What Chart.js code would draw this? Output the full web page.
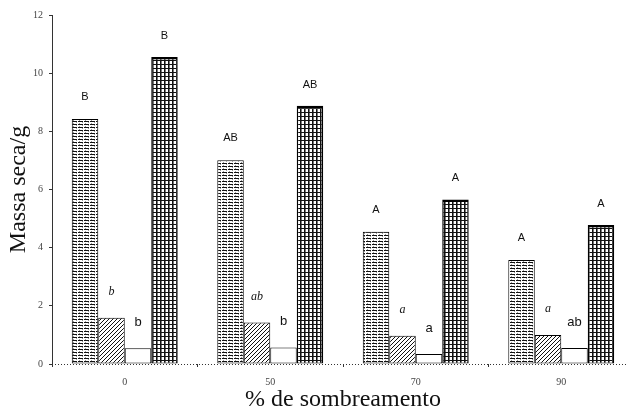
<!DOCTYPE html>
<html lang="pt">
<head>
  <meta charset="UTF-8">
  <title>Massa seca</title>
  <style>
    body {
      margin: 0;
      background: #fff;
      overflow: hidden;
    }
    #wrap {
      width: 636px;
      height: 416px;
    }
  </style>
</head>
<body>

<div id="wrap"><canvas id="chart" width="636" height="416"></canvas></div>

<script src="https://cdn.jsdelivr.net/npm/chart.js"></script>
<script>

const categorias = ["0", "50", "70", "90"];
const serie1 = [8.42, 7.01, 4.55, 3.58];
const serie2 = [1.59, 1.43, 0.97, 1.0];
const serie3 = [0.54, 0.57, 0.34, 0.55];
const serie4 = [10.56, 8.88, 5.66, 4.78];
const letras1 = ["B", "AB", "A", "A"];
const letras2 = ["b", "ab", "a", "a"];
const letras3 = ["b", "b", "a", "ab"];
const letras4 = ["B", "AB", "A", "A"];
const yTicks = [0, 2, 4, 6, 8, 10, 12];

// padrões de hachura
function makePattern(w, h, draw) {
  const c = document.createElement("canvas");
  c.width = w;
  c.height = h;
  const g = c.getContext("2d");
  g.fillStyle = "#fff";
  g.fillRect(0, 0, w, h);
  g.fillStyle = "#111";
  draw(g);
  return document.getElementById("chart").getContext("2d").createPattern(c, "repeat");
}

const pHoriz = makePattern(6, 3, g => {
  g.fillRect(0, 1, 5, 1);
  g.fillStyle = "#999";
  g.fillRect(1, 0, 1, 1);
  g.fillRect(4, 2, 1, 1);
});
const pDiag = makePattern(4, 4, g => {
  for (let i = 0; i < 4; i++) g.fillRect(i, 3 - i, 1, 1);
});
const pGrid = makePattern(4, 4, g => {
  g.fillRect(0, 0, 4, 1);
  g.fillRect(0, 0, 1, 4);
  g.fillStyle = "#777";
  g.fillRect(1, 1, 1, 3);
});
const pWhite = "#fff";

const letterStyle = [
  { letras: letras1, font: "11px 'Liberation Sans'", off: 22 },
  { letras: letras2, font: "italic 12px 'Liberation Serif'", off: 26 },
  { letras: letras3, font: "13px 'Liberation Sans'", off: 26 },
  { letras: letras4, font: "11px 'Liberation Sans'", off: 21 }
];

const lettersPlugin = {
  id: "letters",
  afterDatasetsDraw(chart) {
    const ctx = chart.ctx;
    ctx.save();
    ctx.fillStyle = "#111";
    ctx.textAlign = "center";
    ctx.textBaseline = "middle";
    letterStyle.forEach((st, i) => {
      const meta = chart.getDatasetMeta(i);
      ctx.font = st.font;
      meta.data.forEach((el, j) => {
        ctx.fillText(st.letras[j], el.x, el.y - st.off);
      });
    });
    ctx.restore();
  }
};

const baselinePlugin = {
  id: "baseline",
  afterDraw(chart) {
    const ctx = chart.ctx;
    const y = chart.scales.y.getPixelForValue(0);
    ctx.save();
    ctx.strokeStyle = "#333";
    ctx.lineWidth = 1;
    ctx.setLineDash([1, 2]);
    ctx.beginPath();
    ctx.moveTo(chart.chartArea.left, y + 0.5);
    ctx.lineTo(chart.chartArea.right, y + 0.5);
    ctx.stroke();
    ctx.restore();
  }
};

function ds(data, bg, bw) {
  return {
    data: data,
    backgroundColor: bg,
    borderColor: "#000",
    borderWidth: bw,
    borderSkipped: false,
    categoryPercentage: 0.728,
    barPercentage: 1.0
  };
}

new Chart(document.getElementById("chart"), {
  type: "bar",
  data: {
    labels: categorias,
    datasets: [
      ds(serie1, pHoriz, 1),
      ds(serie2, pDiag, 1),
      ds(serie3, pWhite, 1),
      ds(serie4, pGrid, { top: 2.5, left: 1.5, right: 1.5, bottom: 1 })
    ]
  },
  options: {
    responsive: false,
    animation: false,
    layout: { padding: { top: 15, right: 2, bottom: 0, left: 0 } },
    plugins: {
      legend: { display: false },
      tooltip: { enabled: false }
    },
    scales: {
      x: {
        afterFit: s => { s.height = 52; },
        grid: {
          offset: true,
          drawOnChartArea: false,
          drawTicks: true,
          tickLength: 3,
          color: "#333"
        },
        border: { display: false },
        ticks: {
          padding: 9,
          color: "#444",
          font: { family: "Liberation Serif", size: 10 }
        },
        title: {
          display: true,
          text: "% de sombreamento",
          color: "#111",
          padding: { top: 0, bottom: 2 },
          font: { family: "Liberation Serif", size: 24 }
        }
      },
      y: {
        min: 0,
        max: 12,
        afterFit: s => { s.width = 52; },
        afterBuildTicks: s => { s.ticks = yTicks.map(v => ({ value: v })); },
        grid: {
          drawOnChartArea: false,
          drawTicks: true,
          tickLength: 3,
          color: "#333"
        },
        border: { display: true, color: "#333", width: 1 },
        ticks: {
          padding: 6,
          color: "#444",
          font: { family: "Liberation Serif", size: 10 }
        },
        title: {
          display: true,
          text: "Massa seca/g",
          color: "#111",
          padding: { top: 4, bottom: 0 },
          font: { family: "Liberation Serif", size: 24 }
        }
      }
    }
  },
  plugins: [lettersPlugin, baselinePlugin]
});

</script>

</body>
</html>
